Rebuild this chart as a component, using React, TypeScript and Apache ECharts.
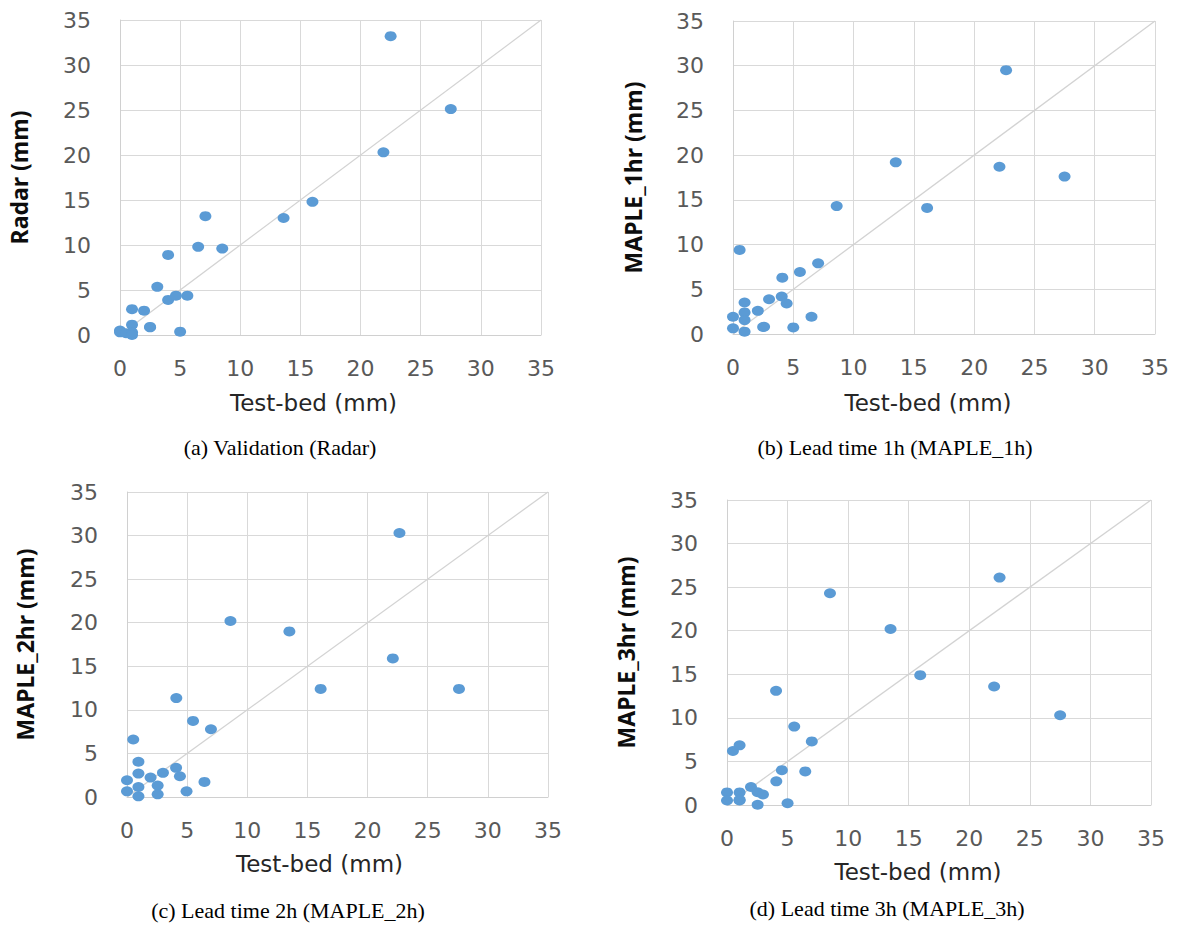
import React, { useEffect, useRef } from "react";
import * as echarts from "echarts";

const TICKS = [0, 5, 10, 15, 20, 25, 30, 35];

// [test-bed, estimate] pairs (mm)
const radarPts = [
  [22.5, 33.2], [27.5, 25.1], [21.9, 20.3], [16.0, 14.8], [13.6, 13.0], [7.1, 13.2],
  [6.5, 9.8], [8.5, 9.6], [4.0, 8.9], [3.1, 5.35], [4.0, 3.9], [4.65, 4.37],
  [5.6, 4.37], [1.0, 2.87], [2.0, 2.7], [2.5, 0.9], [5.0, 0.37], [0, 0.5],
  [0, 0.3], [0.5, 0.2], [1.0, 1.15], [1.0, 0.3], [1.0, 0], [2.5, 0.85],
];
const maple1Pts = [
  [22.65, 29.5], [13.5, 19.2], [22.1, 18.7], [27.5, 17.6], [8.6, 14.3], [16.1, 14.1],
  [0.55, 9.4], [7.06, 7.9], [5.55, 6.93], [4.09, 6.3], [4.04, 4.19], [4.45, 3.41],
  [2.99, 3.89], [0.96, 3.52], [0.96, 2.41], [0.96, 1.56], [2.06, 2.59], [0, 1.93],
  [0, 0.63], [0.96, 0.26], [2.58, 0.81], [2.5, 0.78], [5.0, 0.74], [6.51, 1.93],
];
const maple2Pts = [
  [22.65, 30.3], [8.6, 20.2], [13.5, 19.0], [22.1, 15.9], [16.1, 12.4], [27.6, 12.4],
  [4.1, 11.35], [5.49, 8.73], [6.98, 7.77], [0.52, 6.6], [0.95, 4.04], [0.95, 2.69],
  [2.99, 2.77], [1.96, 2.23], [4.08, 3.35], [4.4, 2.38], [0, 1.92], [0.95, 1.15],
  [2.55, 1.31], [6.44, 1.73], [0, 0.65], [0.95, 0.08], [2.55, 0.31], [4.95, 0.65],
];
const maple3Pts = [
  [22.5, 26.1], [8.5, 24.3], [13.5, 20.2], [15.95, 14.9], [22.05, 13.6], [27.5, 10.3],
  [4.05, 13.1], [5.55, 9.0], [7.0, 7.3], [0.49, 6.2], [1.04, 6.85], [4.53, 4.0],
  [6.46, 3.85], [4.07, 2.72], [1.98, 2.07], [2.53, 1.46], [2.97, 1.2], [0, 1.44],
  [1.04, 1.44], [0, 0.52], [1.04, 0.52], [2.53, 0.03], [5.0, 0.2], [1.04, 0.6],
];
const oneToOne = [[0, 0], [35, 35]];

const yNames = ["Radar (mm)", "MAPLE_1hr (mm)", "MAPLE_2hr (mm)", "MAPLE_3hr (mm)"];
const xName = "Test-bed (mm)";
const captions = [
  "(a) Validation (Radar)",
  "(b) Lead time 1h (MAPLE_1h)",
  "(c) Lead time 2h (MAPLE_2h)",
  "(d) Lead time 3h (MAPLE_3h)",
];
const seriesPts = [radarPts, maple1Pts, maple2Pts, maple3Pts];

const layout = [
  { left: 120, top: 20, width: 421, height: 315, yGap: 90, xGap: 56, xShift: 34, cap: [280, 447] },
  { left: 733, top: 21, width: 422, height: 313, yGap: 89, xGap: 57, xShift: 32, cap: [895, 447] },
  { left: 127, top: 492, width: 421, height: 305, yGap: 91, xGap: 55, xShift: 36, cap: [288, 910] },
  { left: 727, top: 500, width: 424, height: 305, yGap: 90, xGap: 55, xShift: 42, cap: [887, 908] },
];

const GRID = "#d9d9d9";
const TICK_COLOR = "#595959";
const DOT = "#5b9bd5";

export default function App() {
  const ref = useRef<HTMLDivElement>(null);
  useEffect(() => {
    if (!ref.current) return;
    const chart = echarts.init(ref.current, undefined, { renderer: "svg" });
    const tickMin = TICKS[0];
    const tickMax = TICKS[TICKS.length - 1];
    const interval = TICKS[1] - TICKS[0];
    const grids = layout.map((l) => ({
      left: l.left,
      top: l.top,
      width: l.width,
      height: l.height,
      containLabel: false,
      outerBoundsMode: "none",
    }));
    const axisCommon = {
      type: "value",
      min: tickMin,
      max: tickMax,
      interval,
      axisTick: { show: false },
      axisLine: { show: true, lineStyle: { color: "#d0d0d0", width: 1 } },
      splitLine: { show: true, lineStyle: { color: GRID, width: 1 } },
    };
    const xAxes = layout.map((l, i) => ({
      ...axisCommon,
      gridIndex: i,
      name: xName,
      nameLocation: "middle",
      nameGap: l.xGap,
      nameTextStyle: {
        fontFamily: "DejaVu Sans",
        fontSize: 23,
        color: "#262626",
        padding: [0, l.xShift, 0, 0],
      },
      axisLabel: { margin: 22, fontFamily: "DejaVu Sans", fontSize: 22, color: TICK_COLOR },
    }));
    const yAxes = layout.map((l, i) => ({
      ...axisCommon,
      gridIndex: i,
      name: yNames[i],
      nameLocation: "middle",
      nameGap: l.yGap,
      nameTextStyle: {
        fontFamily: "Noto Sans",
        fontWeight: "bold",
        fontSize: 23,
        color: "#0d0d0d",
      },
      axisLabel: { margin: 29, fontFamily: "DejaVu Sans", fontSize: 22, color: TICK_COLOR },
    }));
    const series: any[] = [];
    seriesPts.forEach((pts, i) => {
      series.push({
        type: "line",
        xAxisIndex: i,
        yAxisIndex: i,
        data: oneToOne,
        symbol: "none",
        silent: true,
        lineStyle: { color: "#d3d3d3", width: 1.3 },
        z: 2,
      });
      series.push({
        type: "scatter",
        xAxisIndex: i,
        yAxisIndex: i,
        data: pts,
        symbol: "circle",
        symbolSize: [12, 10],
        itemStyle: { color: DOT, opacity: 1 },
        z: 3,
      });
    });
    const graphic = layout.map((l, i) => ({
      type: "text",
      x: l.cap[0],
      y: l.cap[1],
      style: {
        text: captions[i],
        fontFamily: "Liberation Serif",
        fontSize: 22,
        fill: "#000000",
        textAlign: "center",
        textVerticalAlign: "middle",
      },
    }));
    chart.setOption({
      animation: false,
      backgroundColor: "#ffffff",
      grid: grids,
      xAxis: xAxes,
      yAxis: yAxes,
      series,
      graphic,
    });
    return () => chart.dispose();
  }, []);
  return (
    <div
      ref={ref}
      style={{ position: "fixed", left: 0, top: 0, width: 1177, height: 925, background: "#fff" }}
    />
  );
}
